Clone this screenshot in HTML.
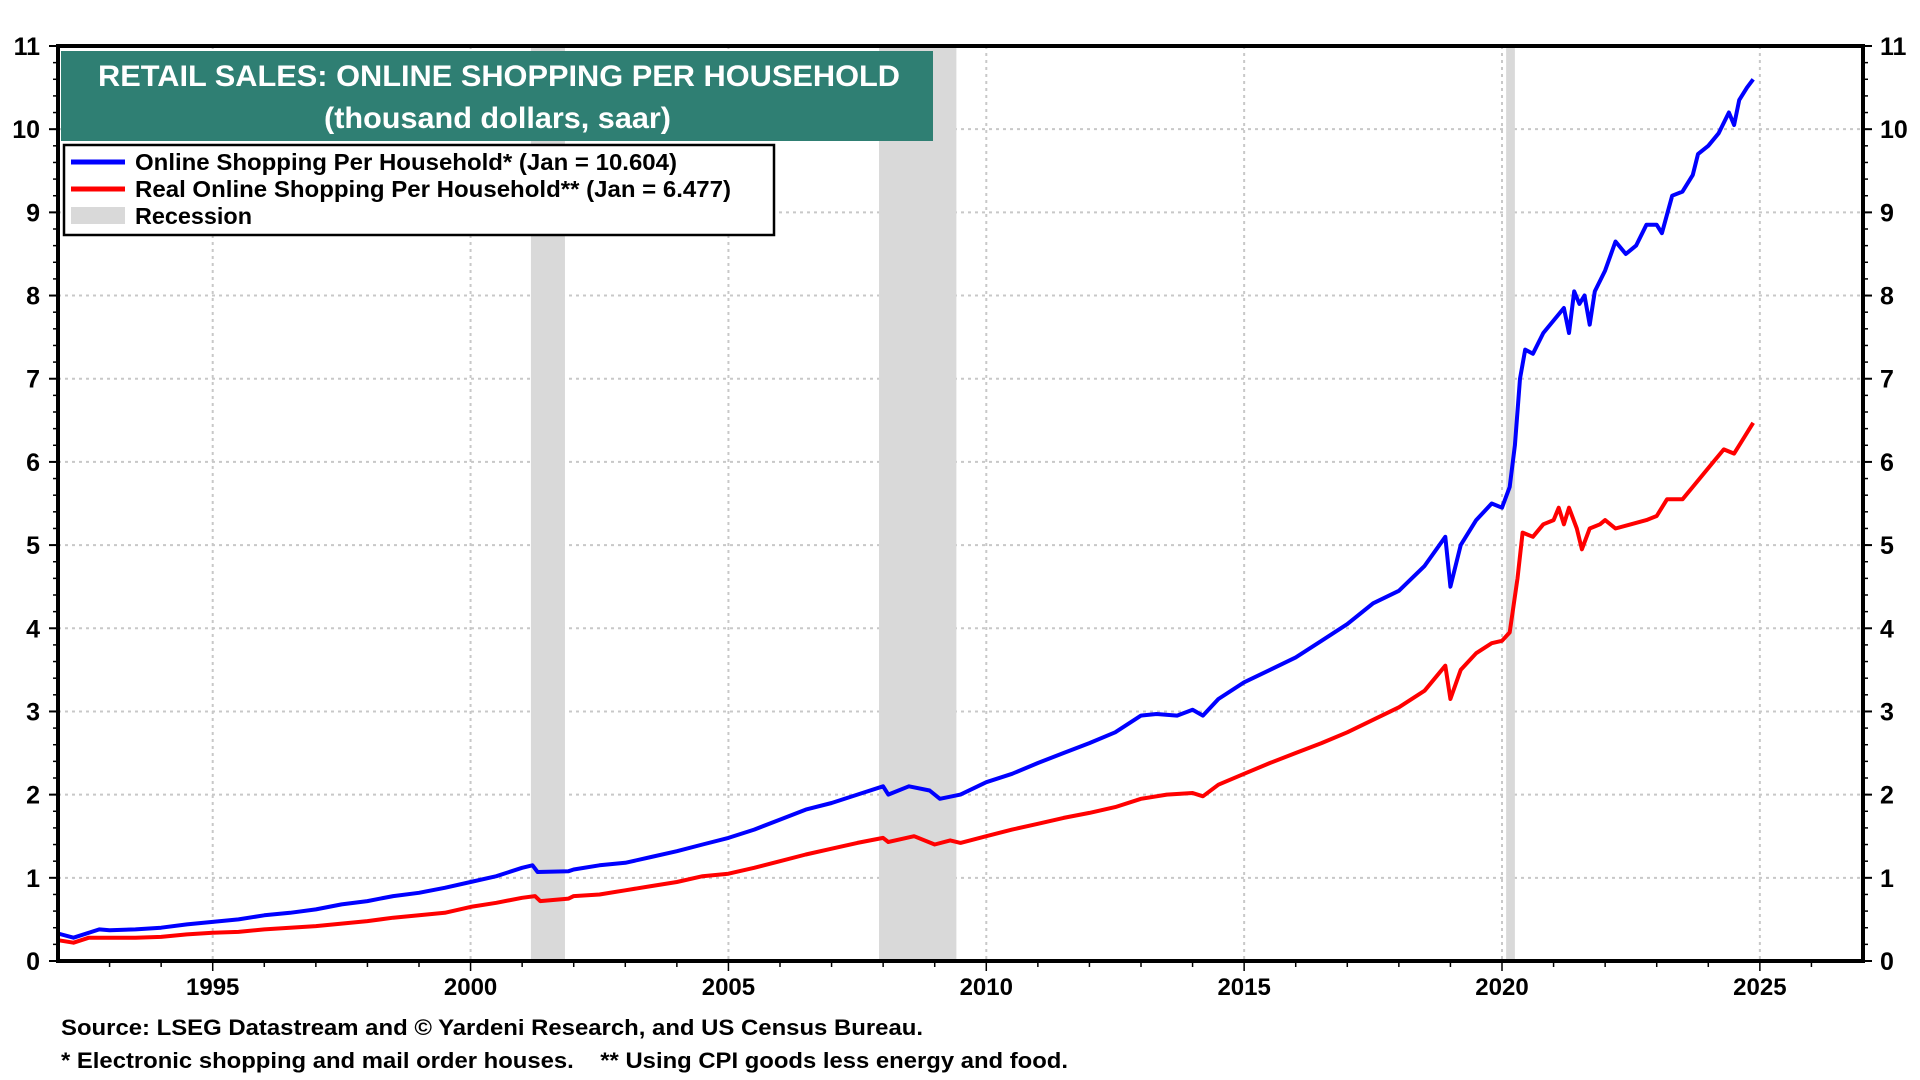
<!DOCTYPE html>
<html><head><meta charset="utf-8">
<style>
html,body{margin:0;padding:0;background:#fff;}
svg{display:block;font-family:"Liberation Sans",Arial,sans-serif;}
</style></head>
<body>
<svg id="chart" width="1920" height="1080" xmlns="http://www.w3.org/2000/svg">
<g id="grid"></g>
<g id="recessions"></g>
<g id="series"></g>
<g id="axes"></g>
<rect x="61" y="51" width="872" height="90" fill="#2f7f73"/>
<text x="98" y="86" font-size="30" font-weight="bold" fill="#fff" textLength="802" lengthAdjust="spacingAndGlyphs">RETAIL SALES: ONLINE SHOPPING PER HOUSEHOLD</text>
<text x="324" y="128" font-size="30" font-weight="bold" fill="#fff" textLength="347" lengthAdjust="spacingAndGlyphs">(thousand dollars, saar)</text>
<g>
<rect x="64" y="145" width="710" height="90" fill="#fff" stroke="#000" stroke-width="2.5"/>
<line x1="71" y1="162" x2="125" y2="162" stroke="#0000ff" stroke-width="5"/>
<text x="135" y="170" font-size="23" font-weight="bold" textLength="542" lengthAdjust="spacingAndGlyphs">Online Shopping Per Household* (Jan = 10.604)</text>
<line x1="71" y1="189" x2="125" y2="189" stroke="#ff0000" stroke-width="5"/>
<text x="135" y="197" font-size="23" font-weight="bold" textLength="596" lengthAdjust="spacingAndGlyphs">Real Online Shopping Per Household** (Jan = 6.477)</text>
<rect x="71" y="207" width="54" height="17" fill="#d9d9d9"/>
<text x="135" y="224" font-size="23" font-weight="bold" textLength="117" lengthAdjust="spacingAndGlyphs">Recession</text>
</g>
<text x="61" y="1035" font-size="22" font-weight="bold" textLength="862" lengthAdjust="spacingAndGlyphs">Source: LSEG Datastream and © Yardeni Research, and US Census Bureau.</text>
<text x="61" y="1068" font-size="22" font-weight="bold" textLength="1007" lengthAdjust="spacingAndGlyphs" xml:space="preserve">* Electronic shopping and mail order houses.    ** Using CPI goods less energy and food.</text>
</svg>
<script>
const blueDates=[1992.0,1992.3,1992.8,1993.0,1993.5,1994,1994.5,1995,1995.5,1996,1996.5,1997,1997.5,1998,1998.5,1999,1999.5,2000,2000.5,2001,2001.2,2001.3,2001.9,2002,2002.5,2003,2003.5,2004,2004.5,2005,2005.5,2006,2006.5,2007,2007.5,2008.0,2008.1,2008.5,2008.9,2009.1,2009.5,2010,2010.5,2011,2011.5,2012,2012.5,2013,2013.3,2013.7,2014,2014.2,2014.5,2015,2015.5,2016,2016.5,2017,2017.5,2018,2018.5,2018.9,2019.0,2019.2,2019.5,2019.8,2020.0,2020.15,2020.25,2020.35,2020.45,2020.6,2020.8,2021.0,2021.2,2021.3,2021.4,2021.5,2021.6,2021.7,2021.8,2022,2022.2,2022.4,2022.6,2022.8,2023,2023.1,2023.3,2023.5,2023.7,2023.8,2024,2024.2,2024.4,2024.5,2024.6,2024.75,2024.87];
const blueValues=[0.33,0.28,0.38,0.37,0.38,0.40,0.44,0.47,0.50,0.55,0.58,0.62,0.68,0.72,0.78,0.82,0.88,0.95,1.02,1.12,1.15,1.07,1.08,1.10,1.15,1.18,1.25,1.32,1.40,1.48,1.58,1.70,1.82,1.90,2.00,2.10,2.00,2.10,2.05,1.95,2.00,2.15,2.25,2.38,2.50,2.62,2.75,2.95,2.97,2.95,3.02,2.95,3.15,3.35,3.50,3.65,3.85,4.05,4.30,4.45,4.75,5.1,4.5,5.0,5.3,5.5,5.45,5.7,6.2,7.0,7.35,7.30,7.55,7.7,7.85,7.55,8.05,7.9,8.0,7.65,8.05,8.3,8.65,8.5,8.6,8.85,8.85,8.75,9.2,9.25,9.45,9.7,9.8,9.95,10.2,10.05,10.35,10.5,10.6];
const redDates=[1992,1992.3,1992.6,1993.5,1994,1994.5,1995,1995.5,1996,1996.5,1997,1997.5,1998,1998.5,1999,1999.5,2000,2000.5,2001,2001.25,2001.35,2001.9,2002,2002.5,2003,2003.5,2004,2004.5,2005,2005.5,2006,2006.5,2007,2007.5,2008,2008.1,2008.6,2009.0,2009.3,2009.5,2010,2010.5,2011,2011.5,2012,2012.5,2013,2013.5,2014,2014.2,2014.5,2015,2015.5,2016,2016.5,2017,2017.5,2018,2018.5,2018.9,2019.0,2019.2,2019.5,2019.8,2020.0,2020.15,2020.3,2020.4,2020.6,2020.8,2021,2021.1,2021.2,2021.3,2021.45,2021.55,2021.7,2021.9,2022,2022.2,2022.5,2022.8,2023,2023.2,2023.5,2023.7,2023.9,2024.1,2024.3,2024.5,2024.7,2024.87];
const redValues=[0.25,0.22,0.28,0.28,0.29,0.32,0.34,0.35,0.38,0.40,0.42,0.45,0.48,0.52,0.55,0.58,0.65,0.70,0.76,0.78,0.72,0.75,0.78,0.80,0.85,0.90,0.95,1.02,1.05,1.12,1.20,1.28,1.35,1.42,1.48,1.43,1.50,1.40,1.45,1.42,1.50,1.58,1.65,1.72,1.78,1.85,1.95,2.00,2.02,1.98,2.12,2.25,2.38,2.50,2.62,2.75,2.90,3.05,3.25,3.55,3.15,3.5,3.7,3.82,3.85,3.95,4.6,5.15,5.1,5.25,5.3,5.45,5.25,5.45,5.2,4.95,5.2,5.25,5.3,5.2,5.25,5.3,5.35,5.55,5.55,5.7,5.85,6.0,6.15,6.1,6.3,6.47];
const recessionStarts=[2001.17,2007.92,2020.08];
const recessionEnds=[2001.83,2009.42,2020.25];
const yearTicks=[1995,2000,2005,2010,2015,2020,2025];
const valueTicks=[0,1,2,3,4,5,6,7,8,9,10,11];

const L=58,R=1863,T=46,B=961,X0=1992.0,X1=2027.0,Y0=0,Y1=11;
const sx=v=>L+(v-X0)/(X1-X0)*(R-L);
const sy=v=>B-(v-Y0)/(Y1-Y0)*(B-T);
const NS='http://www.w3.org/2000/svg';
function mk(tag,attrs,parent){const e=document.createElementNS(NS,tag);for(const k in attrs)e.setAttribute(k,attrs[k]);parent.appendChild(e);return e;}
const grid=document.getElementById('grid'),rec=document.getElementById('recessions'),ser=document.getElementById('series'),ax=document.getElementById('axes');

yearTicks.forEach(y=>{
  const l=mk('line',{x1:sx(y),x2:sx(y),y1:T,y2:B,stroke:'#c8c8c8','stroke-width':2,'stroke-dasharray':'3,4'},grid);
  
  
  const t=mk('text',{x:sx(y),y:B+34,'text-anchor':'middle','font-size':24,'font-weight':'bold'},ax);
  t.textContent=y;
  
  
});
valueTicks.forEach(v=>{
  if(v>0&&v<11){const l=mk('line',{x1:L,x2:R,y1:sy(v),y2:sy(v),stroke:'#c8c8c8','stroke-width':2,'stroke-dasharray':'3,4'},grid);
  
  }
  const a=mk('text',{x:40,y:sy(v)+9,'text-anchor':'end','font-size':25,'font-weight':'bold'},ax);
  a.textContent=v;
  
  
  const b=mk('text',{x:1880,y:sy(v)+9,'text-anchor':'start','font-size':25,'font-weight':'bold'},ax);
  b.textContent=v;
  
  
  mk('line',{x1:L-9,x2:L,y1:sy(v),y2:sy(v),stroke:'#000','stroke-width':2},ax);
  mk('line',{x1:R,x2:R+9,y1:sy(v),y2:sy(v),stroke:'#000','stroke-width':2},ax);
});
for(let v=0.2;v<11;v+=0.2){
  mk('line',{x1:L-5,x2:L,y1:sy(v),y2:sy(v),stroke:'#000','stroke-width':1.5},ax);
  mk('line',{x1:R,x2:R+5,y1:sy(v),y2:sy(v),stroke:'#000','stroke-width':1.5},ax);
}
for(let y=1993;y<=2026;y++){
  mk('line',{x1:sx(y),x2:sx(y),y1:B,y2:B+(y%5===0?10:6),stroke:'#000','stroke-width':1.5},ax);
}
recessionStarts.forEach((s,i)=>{
  const r=mk('rect',{x:sx(s),y:T,width:sx(recessionEnds[i])-sx(s),height:B-T,fill:'#d9d9d9'},rec);
  
  
});
function path(d,v){return d.map((x,i)=>(i?'L':'M')+sx(x).toFixed(1)+','+sy(v[i]).toFixed(1)).join('');}
const pb=mk('path',{d:path(blueDates,blueValues),fill:'none',stroke:'#0000ff','stroke-width':4,'stroke-linejoin':'round'},ser);


const pr=mk('path',{d:path(redDates,redValues),fill:'none',stroke:'#ff0000','stroke-width':4,'stroke-linejoin':'round'},ser);


const frame=mk('rect',{x:L,y:T,width:R-L,height:B-T,fill:'none',stroke:'#000','stroke-width':4},ax);


</script>
</body></html>
